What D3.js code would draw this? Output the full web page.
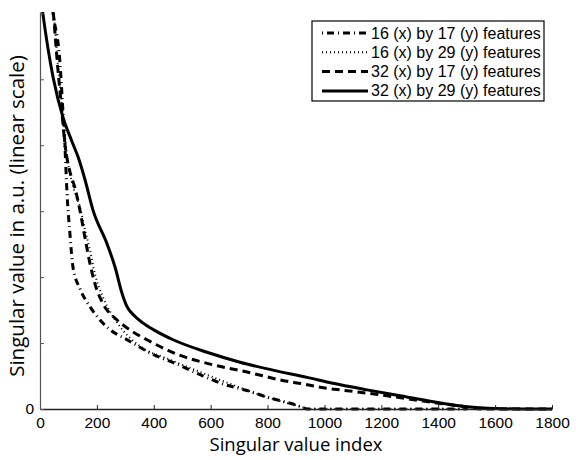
<!DOCTYPE html>
<html lang="en">
<head>
<meta charset="UTF-8">
<title>Singular values</title>
<script src="https://d3js.org/d3.v7.min.js"></script>
<style>
  body { margin: 0; background: #fff; }
</style>
</head>
<body>
<script>
// series names, in legend order
const seriesNames = [
  "16 (x) by 17 (y) features",
  "16 (x) by 29 (y) features",
  "32 (x) by 17 (y) features",
  "32 (x) by 29 (y) features"
];

// [singular value index, singular value]
const s16x17 = [[35,6.4],[46,6.0],[70,5.26],[81,4.48],[88,3.95],[95,3.27],[105,2.67],[116,2.15],
  [141,1.82],[176,1.55],[236,1.24],[306,1.05],[397,0.83],[482,0.68],[563,0.52],[643,0.38],
  [728,0.28],[798,0.18],[868,0.10],[914,0.04],[940,0],[1500,0]];
const s16x29 = [[38,6.4],[48,6.0],[63,5.2],[80,4.5],[95,3.85],[118,3.35],[141,3.05],[158,2.72],
  [176,2.4],[193,2.05],[221,1.7],[250,1.45],[290,1.2],[352,0.95],[450,0.76],[552,0.58],
  [657,0.40],[763,0.23],[868,0.09],[914,0.04],[950,0],[1500,0]];
const s32x17 = [[38,6.4],[47,6.0],[60,5.3],[75,4.6],[88,4.0],[105,3.6],[123,3.35],[141,3.0],
  [158,2.6],[176,2.2],[193,1.9],[221,1.6],[271,1.35],[316,1.2],[376,1.05],[411,0.97],
  [482,0.83],[608,0.67],[728,0.56],[868,0.42],[925,0.38],[985,0.33],[1115,0.26],
  [1220,0.20],[1346,0.12],[1477,0.045],[1550,0],[1800,0]];
const s32x29 = [[1,6.3],[10,6.0],[46,5.03],[81,4.42],[112,4.06],[134,3.82],[158,3.48],[186,3.02],
  [236,2.5],[264,2.15],[288,1.76],[305,1.56],[330,1.42],[360,1.31],[400,1.20],[468,1.05],
  [587,0.86],[703,0.71],[819,0.59],[939,0.48],[1030,0.39],[1150,0.29],[1266,0.20],
  [1382,0.11],[1501,0.035],[1600,0.008],[1700,0],[1800,0]];

const xTicks = [0,200,400,600,800,1000,1200,1400,1600,1800];
const yTicks = [0,1,2,3,4,5,6];

const width = 576, height = 460;
const svg = d3.select("body").append("svg")
  .attr("width", width).attr("height", height);

const x = d3.scaleLinear().domain([0, 1800]).range([40, 552]);
const y = d3.scaleLinear().domain([0, 6.02]).range([409, 12]);

svg.append("clipPath").attr("id", "plot")
  .append("rect").attr("x", 40).attr("y", 12).attr("width", 514).attr("height", 400);

const styles = [
  { width: 3, dash: "1,4,7,4" },
  { width: 2, dash: "1,3" },
  { width: 3, dash: "8,5" },
  { width: 3, dash: null }
];
const allSeries = [s16x17, s16x29, s32x17, s32x29];

const line = d3.line()
  .x(d => x(d[0]))
  .y(d => y(d[1]))
  .curve(d3.curveMonotoneX);

const g = svg.append("g").attr("clip-path", "url(#plot)");
allSeries.forEach((s, i) => {
  g.append("path")
    .datum(s)
    .attr("fill", "none")
    .attr("stroke", "#000")
    .attr("stroke-width", styles[i].width)
    .attr("stroke-dasharray", styles[i].dash)
    .attr("d", line);
});

// axes: ticks point inwards
const xAxis = svg.append("g").attr("transform", "translate(0,409)")
  .call(d3.axisBottom(x).tickValues(xTicks).tickFormat(d3.format("d"))
    .tickSizeInner(-4).tickSizeOuter(0).tickPadding(8));
xAxis.select(".domain").attr("stroke", "#222").attr("stroke-width", 1.5);
xAxis.selectAll(".tick line").attr("stroke", "#222");

const yAxis = svg.append("g").attr("transform", "translate(40,0)")
  .call(d3.axisLeft(y).tickValues(yTicks).tickSizeInner(-4).tickSizeOuter(0).tickPadding(6)
    .tickFormat(d => d === 0 ? "0" : ""));
yAxis.select(".domain").attr("stroke", "#555").attr("stroke-width", 1.2);
yAxis.selectAll(".tick line").attr("stroke", "#555");

svg.selectAll(".tick text")
  .attr("font-family", "'Liberation Sans', Arial, sans-serif")
  .attr("font-size", 15.5)
  .attr("fill", "#000");

svg.append("text")
  .attr("font-family", "'Open Sans', sans-serif").attr("font-size", 18.5)
  .attr("x", 296).attr("y", 451).attr("text-anchor", "middle")
  .text("Singular value index");

svg.append("text")
  .attr("font-family", "'Open Sans', sans-serif").attr("font-size", 20.5)
  .attr("transform", "translate(24,216) rotate(-90)")
  .attr("text-anchor", "middle")
  .text("Singular value in a.u. (linear scale)");

// legend
const legend = svg.append("g");
legend.append("rect")
  .attr("x", 312).attr("y", 21).attr("width", 232).attr("height", 80)
  .attr("fill", "#fff").attr("stroke", "#000").attr("stroke-width", 1.2);
seriesNames.forEach((name, i) => {
  const ly = 33 + i * 19.3;
  legend.append("line")
    .attr("x1", 322).attr("x2", 368).attr("y1", ly).attr("y2", ly)
    .attr("stroke", "#000")
    .attr("stroke-width", styles[i].width)
    .attr("stroke-dasharray", styles[i].dash);
  legend.append("text")
    .attr("font-family", "'Liberation Sans', Arial, sans-serif").attr("font-size", 16)
    .attr("x", 371).attr("y", ly + 5.5)
    .text(name);
});
</script>
</body>
</html>
